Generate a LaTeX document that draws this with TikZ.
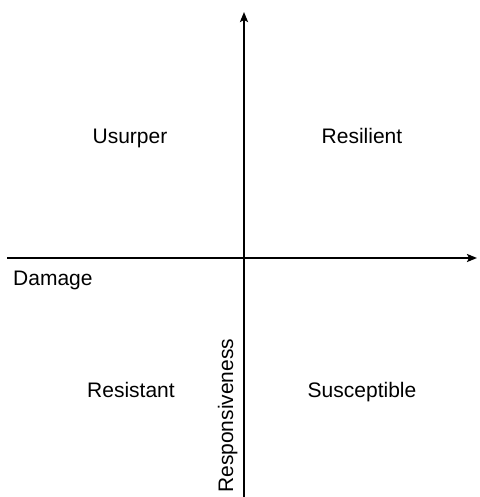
\documentclass[tikz,border=0pt]{standalone}
\usepackage{fontspec}
\setmainfont{Liberation Sans}
\usetikzlibrary{arrows.meta}

\begin{document}
\begin{tikzpicture}
			[x=1pt,y=-1pt,every node/.style={inner sep=0pt,font=\fontsize{21}{25}\selectfont},
			axis/.style={line width=2pt,-{Stealth[length=10pt,width=8pt,inset=2pt]}}]
			\useasboundingbox (0,0) rectangle (479,497);
			% axes
			\coordinate (xl) at (7,258);
			\coordinate (xr) at (477,258);
			\coordinate (yb) at (244,497);
			\coordinate (yt) at (244,12);
			\draw[axis] (xl) -- (xr);
			\draw[axis] (yb) -- (yt);
			% quadrants
			\node[anchor=base] (usurper) at (130,143) {Usurper};
			\node[anchor=base] (resilient) at (362,143) {Resilient};
			\node[anchor=base] (resistant) at (131,397) {Resistant};
			\node[anchor=base] (suscept) at (362,397) {Susceptible};
			% axis names
			\node[anchor=base west] (damage) at (13,285) {Damage};
			\node[anchor=base west,rotate=90] (respons) at (233,493) {Responsiveness};
\end{tikzpicture}
\end{document}
